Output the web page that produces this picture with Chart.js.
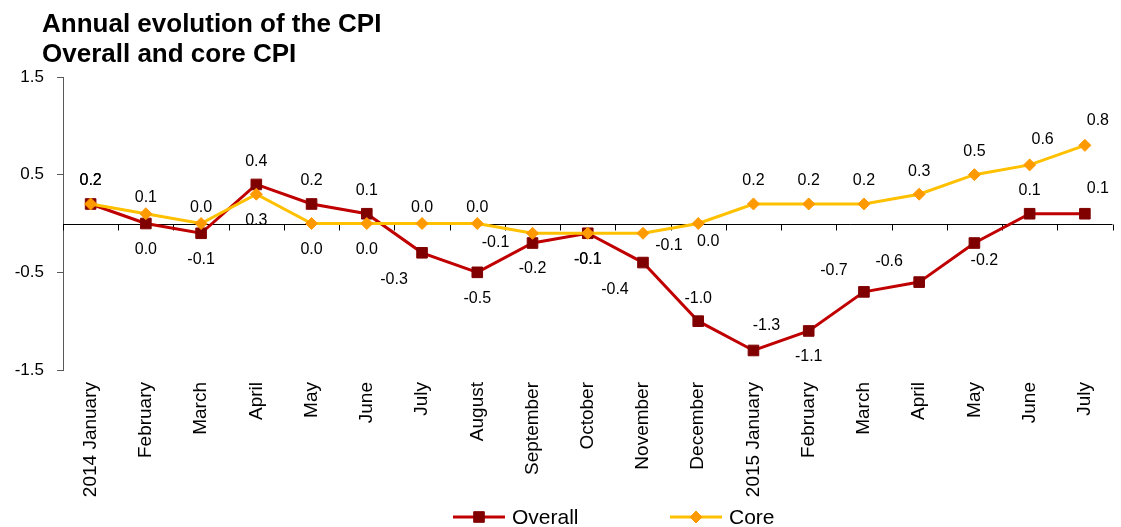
<!DOCTYPE html>
<html>
<head>
<meta charset="utf-8">
<script src="https://cdn.jsdelivr.net/npm/chart.js@4.4.1/dist/chart.umd.min.js"></script>
<style>
  html, body { margin: 0; padding: 0; background: #fff; }
</style>
</head>
<body>
<canvas id="cpi-chart" width="1121" height="527"></canvas>
<script>
const months = ['2014 January', 'February', 'March', 'April', 'May', 'June', 'July', 'August',
    'September', 'October', 'November', 'December', '2015 January', 'February', 'March',
    'April', 'May', 'June', 'July'];
const overall = [0.2, 0.0, -0.1, 0.4, 0.2, 0.1, -0.3, -0.5, -0.2, -0.1, -0.4, -1.0, -1.3, -1.1, -0.7, -0.6, -0.2, 0.1, 0.1];
const core = [0.2, 0.1, 0.0, 0.3, 0.0, 0.0, 0.0, 0.0, -0.1, -0.1, -0.1, 0.0, 0.2, 0.2, 0.2, 0.3, 0.5, 0.6, 0.8];
const yTicks = [-1.5, -0.5, 0.5, 1.5];

// where each value label sits around its point
const overallLabelPos = ['t', 'b', 'b', 't', 't', 't', 'bl', 'b', 'b', 'b', 'bl', 't', 'tr', 'b', 'tl', 'tl', 'br', 't', 'tr'];
const coreLabelPos = ['t', 'ts', 'ts', 'b', 'b', 'b', 'ts', 'ts', 'l', 'b', 'r', 'br', 't', 't', 't', 't', 't', 'tr', 'tr'];
const labelOffsets = {
    t: [0, -23], ts: [0, -16], b: [0, 26], l: [-37, 9], r: [26, 12],
    tl: [-30, -21], tr: [13, -25], bl: [-28, 27], br: [10, 18]
};

const FONT = '"Liberation Sans", Arial, sans-serif';
Chart.defaults.font.family = FONT;
Chart.defaults.color = '#000';

// zero line with category tick marks
const zeroAxis = {
    id: 'zeroAxis',
    beforeDatasetsDraw(chart) {
        const {ctx, chartArea, scales: {x, y}} = chart;
        const y0 = Math.round(y.getPixelForValue(0)) + 0.5;
        ctx.save();
        ctx.strokeStyle = '#000';
        ctx.lineWidth = 1;
        ctx.beginPath();
        ctx.moveTo(chartArea.left, y0);
        ctx.lineTo(chartArea.right, y0);
        for (let i = 0; i <= months.length; i++) {
            let px;
            if (i === 0) px = chartArea.left;
            else if (i === months.length) px = chartArea.right;
            else px = (x.getPixelForValue(i - 1) + x.getPixelForValue(i)) / 2;
            px = Math.round(px) + 0.5;
            ctx.moveTo(px, y0);
            ctx.lineTo(px, y0 + 6);
        }
        ctx.stroke();
        ctx.restore();
    }
};

const valueLabels = {
    id: 'valueLabels',
    afterDatasetsDraw(chart) {
        const ctx = chart.ctx;
        const posLists = [overallLabelPos, coreLabelPos];
        ctx.save();
        ctx.font = '16px ' + FONT;
        ctx.fillStyle = '#000';
        ctx.textAlign = 'center';
        ctx.textBaseline = 'middle';
        chart.data.datasets.forEach((ds, di) => {
            chart.getDatasetMeta(di).data.forEach((pt, i) => {
                const off = labelOffsets[posLists[di][i]];
                ctx.fillText(ds.data[i].toFixed(1), pt.x + off[0], pt.y + off[1]);
            });
        });
        ctx.restore();
    }
};

const titleAndLegend = {
    id: 'titleAndLegend',
    afterDraw(chart) {
        const ctx = chart.ctx;
        ctx.save();
        ctx.fillStyle = '#000';
        ctx.font = 'bold 26px ' + FONT;
        ctx.textAlign = 'left';
        ctx.textBaseline = 'alphabetic';
        ctx.fillText('Annual evolution of the CPI', 42, 32);
        ctx.fillText('Overall and core CPI', 42, 62);

        const items = [{ds: 0, x: 453}, {ds: 1, x: 670}];
        const ly = 517;
        items.forEach(it => {
            const ds = chart.data.datasets[it.ds];
            ctx.strokeStyle = ds.borderColor;
            ctx.lineWidth = ds.borderWidth;
            ctx.beginPath();
            ctx.moveTo(it.x, ly);
            ctx.lineTo(it.x + 52, ly);
            ctx.stroke();
            ctx.fillStyle = ds.pointBackgroundColor;
            ctx.strokeStyle = ds.pointBorderColor;
            ctx.lineWidth = 1;
            Chart.helpers.drawPoint(ctx, {pointStyle: ds.pointStyle, radius: ds.pointRadius, borderWidth: 1, rotation: 0}, it.x + 26, ly);
            ctx.fillStyle = '#000';
            ctx.font = '21px ' + FONT;
            ctx.textBaseline = 'middle';
            ctx.fillText(ds.label, it.x + 59, ly + 1);
        });
        ctx.restore();
    }
};

const ctx = document.getElementById('cpi-chart').getContext('2d');
const cpiChart = new Chart(ctx, {
    type: 'line',
    data: {
        labels: months,
        datasets: [{
            label: 'Overall',
            data: overall,
            borderColor: '#C00000',
            borderWidth: 3,
            pointStyle: 'rect',
            pointRadius: 7.5,
            pointBackgroundColor: '#800000',
            pointBorderColor: '#800000',
            pointBorderWidth: 1,
            order: 2
        }, {
            label: 'Core',
            data: core,
            borderColor: '#FFC000',
            borderWidth: 3,
            pointStyle: 'rectRot',
            pointRadius: 6,
            pointBackgroundColor: '#FF9900',
            pointBorderColor: '#FF9900',
            pointBorderWidth: 1,
            order: 1
        }]
    },
    options: {
        responsive: false,
        animation: false,
        layout: {
            padding: {top: 77, left: 5, right: 6, bottom: 27}
        },
        plugins: {
            legend: {display: false},
            tooltip: {enabled: false}
        },
        scales: {
            x: {
                offset: true,
                grid: {display: false, drawTicks: false},
                border: {display: false},
                afterFit: s => { s.height = 130; },
                ticks: {
                    autoSkip: false,
                    minRotation: 90,
                    maxRotation: 90,
                    padding: 12,
                    color: '#000',
                    font: {size: 19}
                }
            },
            y: {
                min: -1.5,
                max: 1.5,
                afterBuildTicks: s => { s.ticks = yTicks.map(v => ({value: v})); },
                afterFit: s => { s.width = 58; },
                grid: {drawOnChartArea: false, tickLength: 6, color: '#595959'},
                border: {color: '#595959'},
                ticks: {
                    padding: 13,
                    color: '#000',
                    font: {size: 17},
                    callback: v => v.toFixed(1)
                }
            }
        }
    },
    plugins: [zeroAxis, valueLabels, titleAndLegend]
});
</script>
</body>
</html>
